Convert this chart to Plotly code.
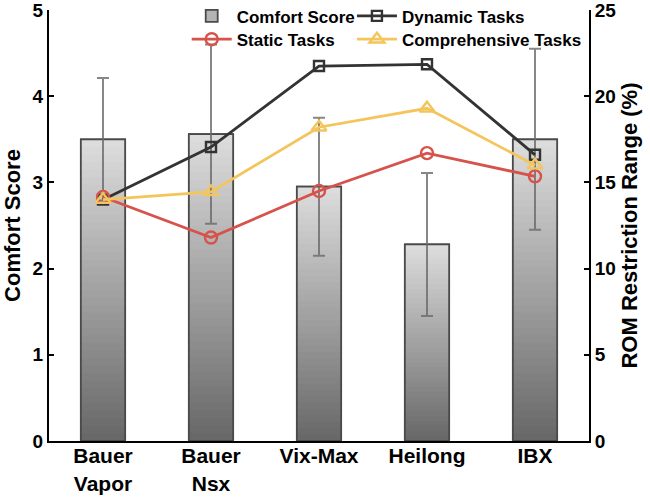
import plotly.graph_objects as go

categories = ["Bauer<br>Vapor", "Bauer<br>Nsx", "Vix-Max", "Heilong", "IBX"]
comfort = [3.50, 3.56, 2.95, 2.28, 3.50]
comfort_err = [0.71, 1.04, 0.80, 0.83, 1.05]
dynamic = [14.0, 17.05, 21.75, 21.85, 16.6]
static = [14.15, 11.8, 14.5, 16.7, 15.35]
comprehensive = [14.0, 14.45, 18.2, 19.3, 16.0]

FONT = "Liberation Sans, Arial, sans-serif"
BAR_W = 0.41
N = 40
dark = (104, 104, 104)
light = (220, 220, 220)

fig = go.Figure()

# legend/base bar
fig.add_trace(go.Bar(
    x=categories, y=comfort, width=BAR_W, name="Comfort Score",
    marker=dict(color="#b4b4b4", line=dict(color="#4a4a4a", width=1.8)),
    legend="legend", hoverinfo="skip"))

# gradient slices
for i in range(N):
    t = i / (N - 1)
    c = tuple(round(dark[k] + (light[k] - dark[k]) * t) for k in range(3))
    fig.add_trace(go.Bar(
        x=categories,
        y=[v * (1 - i / N) for v in comfort],
        base=[v * i / N for v in comfort],
        width=BAR_W, showlegend=False, hoverinfo="skip",
        marker=dict(color="rgb(%d,%d,%d)" % c, line=dict(width=0))))

# outline + error bars
fig.add_trace(go.Bar(
    x=categories, y=comfort, width=BAR_W, showlegend=False,
    marker=dict(color="rgba(0,0,0,0)", line=dict(color="#4a4a4a", width=1.8)),
    error_y=dict(type="data", array=comfort_err, visible=True,
                 color="rgba(105,105,105,0.8)", thickness=2, width=6)))

fig.add_trace(go.Scatter(
    x=categories, y=dynamic, yaxis="y2", name="Dynamic Tasks", legend="legend2",
    mode="lines+markers",
    line=dict(color="#333333", width=2.8),
    marker=dict(symbol="square-open", size=10, color="#333333", line=dict(width=2.4))))

fig.add_trace(go.Scatter(
    x=categories, y=static, yaxis="y2", name="Static Tasks", legend="legend3",
    mode="lines+markers",
    line=dict(color="#d6524a", width=2.8),
    marker=dict(symbol="circle-open", size=12, color="#d6524a", line=dict(width=2.4))))

fig.add_trace(go.Scatter(
    x=categories, y=comprehensive, yaxis="y2", name="Comprehensive Tasks", legend="legend4",
    mode="lines+markers",
    line=dict(color="#f3c55c", width=2.8),
    marker=dict(symbol="triangle-up-open", size=13, color="#f3c55c", line=dict(width=2.4))))

tickfont = dict(family=FONT, size=19, color="black", weight="bold")
xtickfont = dict(family=FONT, size=21, color="black", weight="bold")
titlefont = dict(family=FONT, size=22, color="black", weight="bold")
legfont = dict(family=FONT, size=17, color="black", weight="bold")


def leg(x, y):
    return dict(orientation="h", x=x, xanchor="left", y=y, yanchor="top",
                font=legfont, bgcolor="rgba(0,0,0,0)", itemwidth=40)


fig.update_layout(
    width=650, height=498,
    margin=dict(l=49, r=61, t=10, b=57, autoexpand=False),
    paper_bgcolor="white", plot_bgcolor="white",
    barmode="overlay",
    showlegend=True,
    xaxis=dict(range=[-0.5, 4.5], showline=True, linecolor="black", linewidth=2,
               ticks="", tickfont=xtickfont, showgrid=False, zeroline=False,
               automargin=False, ticklabelstandoff=-5, ticklabeloverflow="allow"),
    yaxis=dict(range=[0, 5], dtick=1, showline=True, linecolor="black", linewidth=2,
               ticks="inside", ticklen=5, tickwidth=2, tickcolor="black",
               tickfont=tickfont, showgrid=False, zeroline=False, automargin=False,
               ticklabeloverflow="allow",
               title=dict(text="Comfort Score", font=titlefont, standoff=6)),
    yaxis2=dict(range=[0, 25], dtick=5, overlaying="y", side="right",
                showline=True, linecolor="black", linewidth=2,
                ticks="inside", ticklen=5, tickwidth=2, tickcolor="black",
                tickfont=tickfont, showgrid=False, zeroline=False, automargin=False,
                ticklabeloverflow="allow",
                title=dict(text="ROM Restriction Range (%)", font=titlefont, standoff=6)),
    legend=leg(0.255, 1.027),
    legend2=leg(0.561, 1.027),
    legend3=leg(0.255, 0.973),
    legend4=leg(0.561, 0.973),
)

fig.write_html("out.html", config={"displayModeBar": False},
               post_script="document.body.style.margin='0';document.body.style.padding='0';")
